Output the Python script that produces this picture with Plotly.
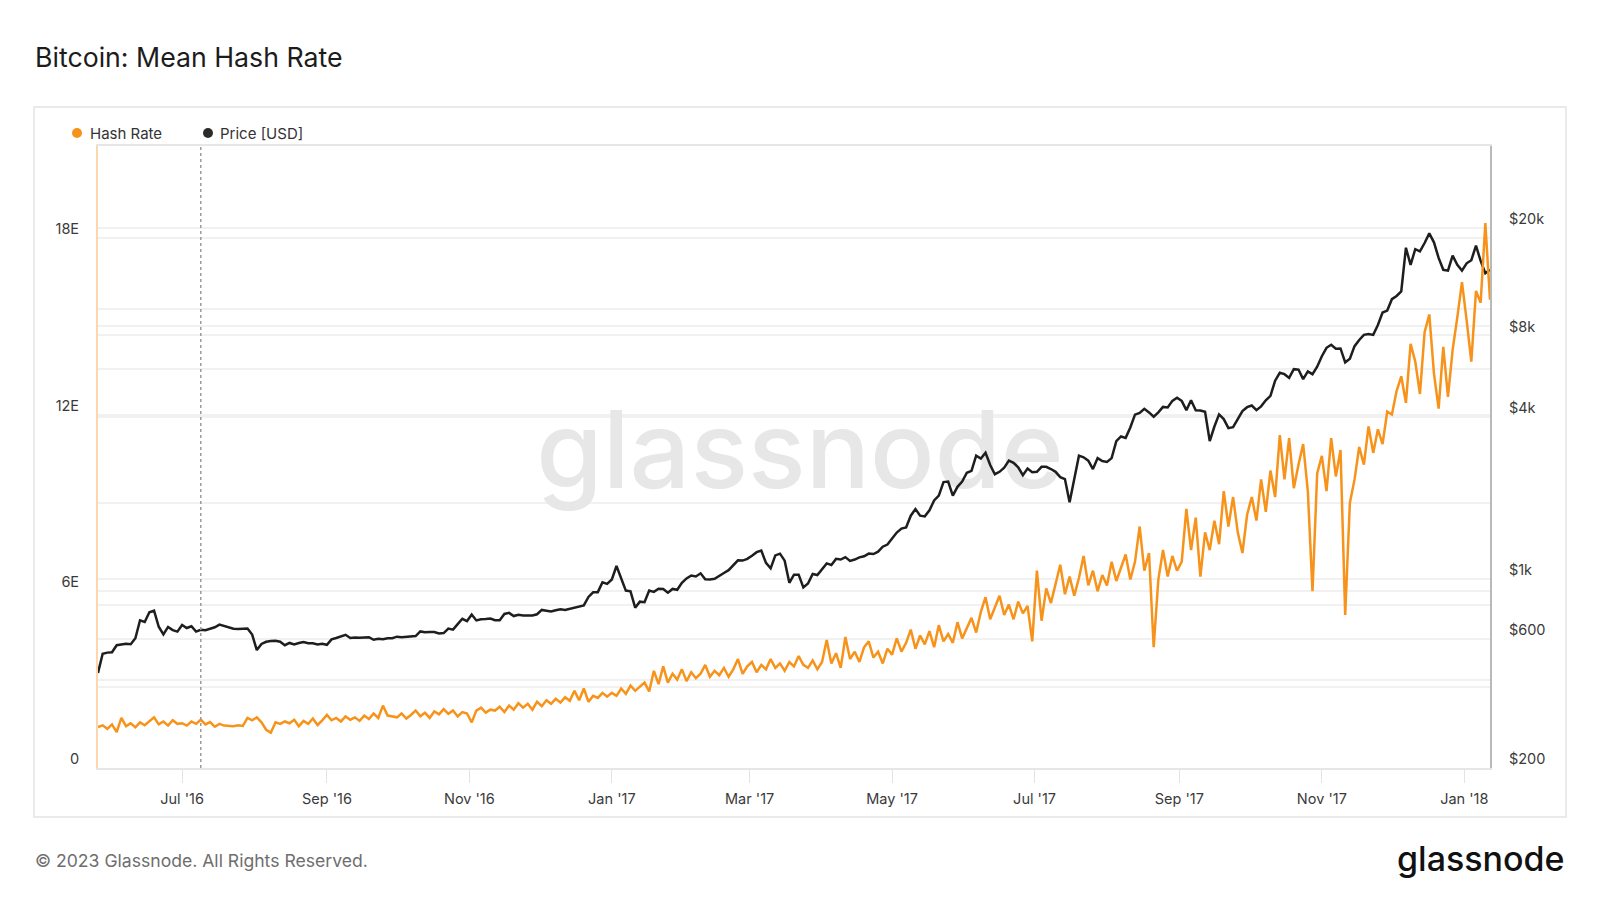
import math
import pandas as pd
import plotly.graph_objects as go

# ---------------- data (2-day samples, 2016-05-26 .. 2018-01-12) ----------------
start_date = "2016-05-26"
sample_step = "2D"
halving_date = "2016-07-09"

# Mean hash rate, EH/s
hash_rate_eh = [
    # May 2016
    1.39, 1.45, 1.33,
    # Jun 2016
    1.48, 1.22, 1.70, 1.42, 1.52, 1.38, 1.55, 1.45, 1.60, 1.72, 1.48, 1.58, 1.44, 1.62, 1.50,
    # Jul 2016
    1.52, 1.44, 1.58, 1.50, 1.64, 1.48, 1.56, 1.40, 1.50, 1.44, 1.43, 1.42, 1.45, 1.43, 1.70, 1.62,
    # Aug 2016
    1.72, 1.55, 1.30, 1.20, 1.55, 1.50, 1.58, 1.52, 1.64, 1.42, 1.60, 1.50, 1.68, 1.46, 1.62,
    # Sep 2016
    1.80, 1.62, 1.70, 1.58, 1.75, 1.64, 1.72, 1.60, 1.78, 1.66, 1.85, 1.70, 2.12, 1.78, 1.74,
    # Oct 2016
    1.72, 1.85, 1.68, 1.80, 1.95, 1.76, 1.88, 1.70, 1.92, 1.82, 2.00, 1.84, 1.95, 1.75, 1.90, 1.85,
    # Nov 2016
    1.55, 1.95, 2.05, 1.88, 1.98, 1.95, 2.08, 1.90, 2.12, 1.98, 2.20, 2.05, 2.18, 1.98, 2.25,
    # Dec 2016
    2.10, 2.30, 2.18, 2.35, 2.22, 2.40, 2.28, 2.62, 2.30, 2.70, 2.25, 2.45, 2.38, 2.55, 2.42,
    # Jan 2017
    2.55, 2.45, 2.70, 2.52, 2.80, 2.62, 2.75, 2.90, 2.60, 3.30, 2.85, 3.45, 2.90, 3.20, 3.00, 3.35,
    # Feb 2017
    2.95, 3.25, 3.05, 3.20, 3.50, 3.10, 3.30, 3.15, 3.40, 3.10, 3.35, 3.70, 3.20, 3.45,
    # Mar 2017
    3.60, 3.25, 3.50, 3.35, 3.70, 3.40, 3.55, 3.30, 3.60, 3.45, 3.80, 3.50, 3.40, 3.65, 3.35,
    # Apr 2017
    3.60, 4.35, 3.55, 3.90, 3.40, 4.45, 3.70, 3.95, 3.60, 4.10, 4.30, 3.75, 3.95, 3.55, 4.05,
    # May 2017
    3.85, 4.40, 3.95, 4.25, 4.70, 4.05, 4.50, 4.20, 4.65, 4.10, 4.85, 4.30, 4.55, 4.25, 4.95, 4.40,
    # Jun 2017
    4.75, 5.10, 4.60, 5.30, 5.80, 5.05, 5.45, 5.85, 5.20, 5.55, 5.05, 5.65, 5.25, 5.50, 4.30,
    # Jul 2017
    6.70, 5.00, 6.10, 5.60, 6.30, 6.90, 5.90, 6.50, 5.85, 6.45, 7.20, 6.20, 6.70, 6.00, 6.55,
    # Aug 2017
    6.20, 7.00, 6.35, 6.80, 7.25, 6.40, 7.00, 8.20, 6.70, 7.30, 4.10, 6.40, 7.40, 6.50, 7.20, 6.70,
    # Sep 2017
    7.00, 8.80, 7.40, 8.50, 6.50, 8.00, 7.40, 8.40, 7.60, 9.40, 8.20, 9.20, 8.00, 7.30, 8.60,
    # Oct 2017
    9.20, 8.40, 9.80, 8.70, 10.10, 9.20, 11.30, 9.80, 11.20, 9.50, 10.30, 11.00, 9.40, 6.00, 10.00,
    # Nov 2017
    10.60, 9.40, 11.20, 9.90, 10.80, 5.20, 9.00, 9.80, 10.90, 10.30, 11.60, 10.70, 11.50, 11.00, 12.10,
    # Dec 2017
    12.00, 12.80, 13.30, 12.40, 14.40, 13.80, 12.70, 14.80, 15.40, 13.40, 12.20, 14.30, 12.60, 14.20, 15.30, 16.50,
    # Jan 2018
    15.20, 13.80, 16.20, 15.80, 18.50, 15.90,
]

# Price, USD
price_usd = [
    # May 2016
    450, 530, 535,
    # Jun 2016
    537, 570, 575, 577, 575, 605, 705, 695, 755, 765, 667, 625, 666, 648, 640,
    # Jul 2016
    677, 660, 670, 640, 650, 648, 655, 664, 679, 672, 665, 656, 654, 654, 657, 624,
    # Aug 2016
    547, 576, 587, 591, 592, 587, 570, 581, 574, 581, 586, 580, 579, 574, 577,
    # Sep 2016
    572, 599, 606, 614, 623, 606, 609, 607, 607, 610, 597, 602, 600, 605, 605,
    # Oct 2016
    613, 610, 612, 617, 616, 641, 636, 638, 638, 630, 632, 657, 651, 682, 714, 700,
    # Nov 2016
    740, 704, 711, 712, 715, 705, 705, 744, 751, 731, 739, 735, 735, 734, 742,
    # Dec 2016
    770, 765, 760, 768, 775, 770, 778, 785, 790, 800, 860, 895, 896, 975, 962,
    # Jan 2017
    998, 1120, 1000, 908, 902, 785, 826, 822, 908, 898, 922, 920, 892, 921, 914, 970,
    # Feb 2017
    1007, 1033, 1024, 1052, 1000, 998, 1004, 1033, 1055, 1081, 1126, 1176, 1173, 1190,
    # Mar 2017
    1222, 1260, 1277, 1150, 1098, 1226, 1244, 1172, 970, 1040, 1040, 933, 964, 1046, 1037,
    # Apr 2017
    1090, 1145, 1130, 1190, 1183, 1208, 1170, 1183, 1205, 1217, 1245, 1240, 1265, 1320, 1345,
    # May 2017
    1420, 1490, 1540, 1555, 1720, 1820, 1720, 1710, 1800, 1960, 2040, 2290, 2300, 2040, 2200, 2300,
    # Jun 2017
    2480, 2520, 2870, 2800, 2940, 2650, 2450, 2500, 2590, 2750, 2700, 2600, 2430, 2570, 2490,
    # Jul 2017
    2500, 2610, 2610, 2560, 2500, 2390, 2350, 1930, 2330, 2870, 2830, 2750, 2560, 2810, 2740,
    # Aug 2017
    2720, 2810, 3250, 3380, 3340, 3650, 4070, 4130, 4280, 4150, 4000, 4150, 4350, 4330, 4580, 4700,
    # Sep 2017
    4580, 4230, 4600, 4230, 4220, 4170, 3250, 3680, 4080, 3920, 3630, 3660, 3900, 4200, 4340,
    # Oct 2017
    4400, 4230, 4370, 4600, 4780, 5440, 5820, 5750, 5570, 6000, 5980, 5510, 5890, 5750, 6130,
    # Nov 2017
    6700, 7200, 7390, 7140, 7160, 6360, 6560, 7300, 7700, 8040, 8100, 8040, 8750, 9730, 9890,
    # Dec 2017
    10900, 11200, 11650, 16900, 14600, 16700, 16400, 17600, 19100, 17700, 15500, 14000, 13900, 15800, 14600, 13900,
    # Jan 2018
    14800, 15200, 17200, 15100, 13600, 14000,
]

left_tick_vals = [0, 6, 12, 18]
left_tick_text = ["0", "6E", "12E", "18E"]
left_minor_vals = [3, 9, 15]
right_tick_vals = [200, 600, 1000, 4000, 8000, 20000]
right_tick_text = ["$200", "$600", "$1k", "$4k", "$8k", "$20k"]
right_minor_vals = [400, 800, 6000, 10000]

dates = pd.date_range(start_date, periods=len(hash_rate_eh), freq=sample_step)

# ---------------- geometry (pixels) ----------------
W, H = 1600, 900
L, R, T, B = 98, 1490, 146, 768
PX_PER_EH = 29.45
PX_PER_DECADE = 270.0
LOG_MIN = math.log10(200)
LOG_MAX = LOG_MIN + (B - T) / PX_PER_DECADE
EH_MAX = (B - T) / PX_PER_EH


def fx(px):
    return (px - L) / (R - L)


def fy(py):
    return (B - py) / (B - T)


def px_to_date(px):
    span = (dates[-1] - dates[0])
    return dates[0] + span * ((px - L) / (R - L))


def px_to_price(py):
    return 10 ** (LOG_MIN + (B - py) / PX_PER_DECADE)


FONT = "Inter, Roboto, 'Open Sans', sans-serif"
ORANGE = "#f7931a"
BLACK = "#1e1e1e"
GRID = "#f1f1f1"

fig = go.Figure()

# watermark (below the lines)
fig.add_trace(go.Scatter(
    x=[px_to_date(800)], y=[px_to_price(461)], mode="text", text=["glassnode"],
    textfont=dict(family=FONT, size=107, color="#e7e7e7", weight=500),
    textposition="middle center", yaxis="y", showlegend=False, hoverinfo="skip",
))

fig.add_trace(go.Scatter(
    x=dates, y=price_usd, name="Price [USD]", mode="lines", yaxis="y",
    line=dict(color=BLACK, width=2.5), showlegend=False,
))
fig.add_trace(go.Scatter(
    x=dates, y=hash_rate_eh, name="Hash Rate", mode="lines", yaxis="y2",
    line=dict(color=ORANGE, width=2.5), showlegend=False,
))

tickfont = dict(family=FONT, size=14.5, color="#3a3a3a")

fig.update_layout(
    width=W, height=H, autosize=False,
    margin=dict(l=L, r=W - R, t=T, b=H - B, pad=0),
    paper_bgcolor="white", plot_bgcolor="white",
    showlegend=False,
    xaxis=dict(
        type="date", range=[dates[0], dates[-1]],
        tick0="2016-07-01", dtick="M2", tickformat="%b '%y",
        ticks="outside", ticklen=13, tickwidth=1.2, tickcolor="#e4e4e4",
        showline=True, linecolor="#e6e6e6", linewidth=1.5, mirror=True,
        showgrid=False, zeroline=False, tickfont=tickfont,
        ticklabelstandoff=4,
    ),
    yaxis=dict(
        type="log", side="right", range=[LOG_MIN, LOG_MAX],
        tickmode="array", tickvals=right_tick_vals, ticktext=right_tick_text,
        showline=True, linecolor="#b9b9b9", linewidth=2,
        showgrid=True, gridcolor=GRID, gridwidth=1.5, zeroline=False,
        minor=dict(tickmode="array", tickvals=right_minor_vals, showgrid=True,
                   gridcolor=GRID, gridwidth=1.5, ticks=""),
        ticks="", tickfont=tickfont, ticklabelshift=-9, ticklabelstandoff=14,
    ),
    yaxis2=dict(
        overlaying="y", side="left", range=[0, EH_MAX],
        tickmode="array", tickvals=left_tick_vals, ticktext=left_tick_text,
        showline=True, linecolor="#fcd6ad", linewidth=2,
        showgrid=True, gridcolor=GRID, gridwidth=1.5, zeroline=False,
        minor=dict(tickmode="array", tickvals=left_minor_vals, showgrid=True,
                   gridcolor=GRID, gridwidth=1.5, ticks=""),
        ticks="", tickfont=tickfont, ticklabelshift=-9, ticklabelstandoff=14,
    ),
)

shapes = [
    # outer card
    dict(type="rect", xref="paper", yref="paper", x0=fx(34), x1=fx(1566), y0=fy(817), y1=fy(107),
         line=dict(color="#e4e4e4", width=1.5), fillcolor="rgba(0,0,0,0)", layer="below"),
    # halving marker
    dict(type="line", xref="x", yref="paper", x0=halving_date, x1=halving_date, y0=0, y1=1,
         line=dict(color="#9c9c9c", width=1.5, dash="dot")),
    # legend dots
    dict(type="circle", xref="paper", yref="paper", xsizemode="pixel", ysizemode="pixel",
         xanchor=fx(77), yanchor=fy(133), x0=-5, x1=5, y0=-5, y1=5,
         fillcolor=ORANGE, line=dict(width=0)),
    dict(type="circle", xref="paper", yref="paper", xsizemode="pixel", ysizemode="pixel",
         xanchor=fx(208), yanchor=fy(133), x0=-5, x1=5, y0=-5, y1=5,
         fillcolor="#2b2b2b", line=dict(width=0)),
]
fig.update_layout(shapes=shapes)

annotations = [
    dict(text="Bitcoin: Mean Hash Rate", x=fx(33), y=fy(57), xanchor="left", yanchor="middle",
         font=dict(family=FONT, size=26.7, color="#1c1c1c")),
    dict(text="Hash Rate", x=fx(88), y=fy(133), xanchor="left", yanchor="middle",
         font=dict(family=FONT, size=15, color="#333333")),
    dict(text="Price [USD]", x=fx(218), y=fy(133), xanchor="left", yanchor="middle",
         font=dict(family=FONT, size=15, color="#333333")),
    dict(text="© 2023 Glassnode. All Rights Reserved.", x=fx(33), y=fy(860), xanchor="left",
         yanchor="middle", font=dict(family=FONT, size=17.6, color="#6e6e6e")),
    dict(text="glassnode", x=fx(1567), y=fy(858), xanchor="right", yanchor="middle",
         font=dict(family=FONT, size=34, color="#111111", weight=500)),
]
for a in annotations:
    a.update(xref="paper", yref="paper", showarrow=False)
fig.update_layout(annotations=annotations)

fig.write_html(
    "out.html",
    config={"displayModeBar": False},
    post_script="document.body.style.margin='0';document.body.style.overflow='hidden';",
)
